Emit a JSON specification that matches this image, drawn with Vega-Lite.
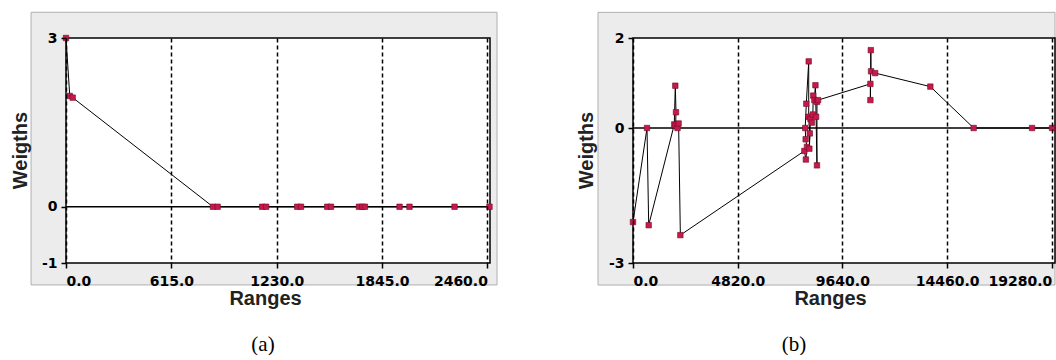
{
  "$schema": "https://vega.github.io/schema/vega-lite/v6.json",
  "padding": {"left": 10, "top": 11, "right": 0, "bottom": 0},
  "background": "white",
  "spacing": 78,
  "config": {"view": {"stroke": null}},
  "datasets": {
    "a": [
      {"i": 0, "x": 0, "y": 3},
      {"i": 1, "x": 22, "y": 1.97},
      {"i": 2, "x": 39, "y": 1.94},
      {"i": 3, "x": 858, "y": 0},
      {"i": 4, "x": 885, "y": 0},
      {"i": 5, "x": 1145, "y": 0},
      {"i": 6, "x": 1168, "y": 0},
      {"i": 7, "x": 1350, "y": 0},
      {"i": 8, "x": 1372, "y": 0},
      {"i": 9, "x": 1525, "y": 0},
      {"i": 10, "x": 1547, "y": 0},
      {"i": 11, "x": 1710, "y": 0},
      {"i": 12, "x": 1730, "y": 0},
      {"i": 13, "x": 1745, "y": 0},
      {"i": 14, "x": 1947, "y": 0},
      {"i": 15, "x": 2005, "y": 0},
      {"i": 16, "x": 2268, "y": 0},
      {"i": 17, "x": 2472, "y": 0}
    ],
    "b": [
      {"i": 0, "x": 0, "y": -2.09},
      {"i": 1, "x": 645, "y": 0},
      {"i": 2, "x": 723, "y": -2.16},
      {"i": 3, "x": 1900, "y": 0.08},
      {"i": 4, "x": 1948, "y": 0.94},
      {"i": 5, "x": 1980, "y": 0.35},
      {"i": 6, "x": 1960, "y": 0.05},
      {"i": 7, "x": 2050, "y": 0},
      {"i": 8, "x": 2100, "y": 0.1},
      {"i": 9, "x": 2180, "y": -2.38},
      {"i": 10, "x": 7890, "y": -0.51},
      {"i": 11, "x": 7960, "y": -0.7},
      {"i": 12, "x": 8010, "y": -0.42},
      {"i": 13, "x": 7950, "y": -0.25},
      {"i": 14, "x": 7930, "y": 0},
      {"i": 15, "x": 7980, "y": 0.54},
      {"i": 16, "x": 8090, "y": 1.48},
      {"i": 17, "x": 8090, "y": 0.25},
      {"i": 18, "x": 8140, "y": -0.12},
      {"i": 19, "x": 8120, "y": -0.46},
      {"i": 20, "x": 8170, "y": 0.2},
      {"i": 21, "x": 8230, "y": 0.12},
      {"i": 22, "x": 8280, "y": 0.3},
      {"i": 23, "x": 8300, "y": 0.72},
      {"i": 24, "x": 8350, "y": 0.62},
      {"i": 25, "x": 8400, "y": 0.95},
      {"i": 26, "x": 8430, "y": 0.25},
      {"i": 27, "x": 8470, "y": -0.83},
      {"i": 28, "x": 8470, "y": 0.58},
      {"i": 29, "x": 8520, "y": 0.62},
      {"i": 30, "x": 10930, "y": 0.98},
      {"i": 31, "x": 10930, "y": 0.62},
      {"i": 32, "x": 10950, "y": 1.73},
      {"i": 33, "x": 10960, "y": 1.26},
      {"i": 34, "x": 11150, "y": 1.22},
      {"i": 35, "x": 13690, "y": 0.92},
      {"i": 36, "x": 15685, "y": 0},
      {"i": 37, "x": 18374, "y": 0},
      {"i": 38, "x": 19295, "y": 0}
    ]
  },
  "hconcat": [
    {
      "width": 424,
      "height": 225,
      "title": {"text": "(a)", "orient": "bottom", "anchor": "middle", "frame": "group", "font": "Liberation Serif", "fontSize": 21, "fontWeight": "normal", "color": "black", "offset": 26, "dx": -15},
      "layer": [
        {
          "data": {"values": [{}]},
          "mark": {"type": "rect", "fill": "#ececec", "stroke": "#b0b0b0", "strokeWidth": 1, "clip": false},
          "encoding": {
            "x": {"datum": -204, "type": "quantitative",
              "scale": {"domain": [0, 2475], "nice": false, "zero": false},
              "axis": {"title": "Ranges", "values": [0, 615, 1230, 1845, 2460], "format": ".1f", "labelFlush": 20, "labelOverlap": false, "labelBound": false,
                "grid": true, "gridDash": [4, 3], "gridColor": "black", "gridWidth": 1.5, "gridOpacity": 1,
                "domain": false, "ticks": true, "tickSize": 5, "tickColor": "black", "tickWidth": 1.5,
                "labelPadding": 6, "labelFont": "DejaVu Sans", "labelFontSize": 14, "labelFontWeight": "bold", "labelColor": "black",
                "titleFont": "Liberation Sans", "titleFontSize": 20, "titleFontWeight": "bold", "titleColor": "#222222",
                "titleX": 199, "titleY": 41, "titleBaseline": "alphabetic", "titleAlign": "center", "zindex": 1}},
            "x2": {"datum": 2516},
            "y": {"datum": 3.457, "type": "quantitative",
              "scale": {"domain": [-1, 3], "nice": false, "zero": false},
              "axis": {"title": "Weigths", "values": [-1, 0, 3], "labelExpr": "'' + datum.value", "grid": false, "domain": false,
                "tickSize": 5, "tickColor": "black", "tickWidth": 1.5, "labelPadding": 4,
                "labelFont": "DejaVu Sans", "labelFontSize": 14, "labelFontWeight": "bold", "labelColor": "black",
                "titleFont": "Liberation Sans", "titleFontSize": 20, "titleFontWeight": "bold", "titleColor": "#222222",
                "titleX": -40, "titleY": 112, "titleAngle": -90, "titleBaseline": "alphabetic", "titleAlign": "center", "zindex": 1}},
            "y2": {"datum": -1.39}
          }
        },
        {
          "data": {"values": [{}]},
          "mark": {"type": "rect", "fill": "white", "stroke": "black", "strokeWidth": 1.5, "clip": false},
          "encoding": {
            "x": {"datum": 0, "type": "quantitative"},
            "x2": {"datum": 2475},
            "y": {"datum": 3, "type": "quantitative"},
            "y2": {"datum": -1}
          }
        },
        {
          "data": {"values": [{}]},
          "mark": {"type": "rule", "color": "black", "strokeWidth": 1.5},
          "encoding": {"y": {"datum": 0, "type": "quantitative"}}
        },
        {
          "data": {"name": "a"},
          "mark": {"type": "line", "color": "black", "strokeWidth": 1},
          "encoding": {
            "x": {"field": "x", "type": "quantitative"},
            "y": {"field": "y", "type": "quantitative"},
            "order": {"field": "i"}
          }
        },
        {
          "data": {"name": "a"},
          "mark": {"type": "point", "shape": "square", "filled": true, "size": 30, "color": "#c8194b", "stroke": "#6e0d2a", "strokeWidth": 0.6, "opacity": 1},
          "encoding": {
            "x": {"field": "x", "type": "quantitative"},
            "y": {"field": "y", "type": "quantitative"}
          }
        }
      ]
    },
    {
      "width": 422,
      "height": 225,
      "title": {"text": "(b)", "orient": "bottom", "anchor": "middle", "frame": "group", "font": "Liberation Serif", "fontSize": 21, "fontWeight": "normal", "color": "black", "offset": 26, "dx": -50},
      "layer": [
        {
          "data": {"values": [{}]},
          "mark": {"type": "rect", "fill": "#ececec", "stroke": "#b0b0b0", "strokeWidth": 1, "clip": false},
          "encoding": {
            "x": {"datum": -1611, "type": "quantitative",
              "scale": {"domain": [0, 19430], "nice": false, "zero": false},
              "axis": {"title": "Ranges", "values": [0, 4820, 9640, 14460, 19280], "format": ".1f", "labelFlush": 20, "labelOverlap": false, "labelBound": false,
                "grid": true, "gridDash": [4, 3], "gridColor": "black", "gridWidth": 1.5, "gridOpacity": 1,
                "domain": false, "ticks": true, "tickSize": 5, "tickColor": "black", "tickWidth": 1.5,
                "labelPadding": 6, "labelFont": "DejaVu Sans", "labelFontSize": 14, "labelFontWeight": "bold", "labelColor": "black",
                "titleFont": "Liberation Sans", "titleFontSize": 20, "titleFontWeight": "bold", "titleColor": "#222222",
                "titleX": 197, "titleY": 41, "titleBaseline": "alphabetic", "titleAlign": "center", "zindex": 1}},
            "x2": {"datum": 19430},
            "y": {"datum": 2.57, "type": "quantitative",
              "scale": {"domain": [-3, 2], "nice": false, "zero": false},
              "axis": {"title": "Weigths", "values": [-3, 0, 2], "labelExpr": "'' + datum.value", "grid": false, "domain": false,
                "tickSize": 5, "tickColor": "black", "tickWidth": 1.5, "labelPadding": 4,
                "labelFont": "DejaVu Sans", "labelFontSize": 14, "labelFontWeight": "bold", "labelColor": "black",
                "titleFont": "Liberation Sans", "titleFontSize": 20, "titleFontWeight": "bold", "titleColor": "#222222",
                "titleX": -41, "titleY": 112, "titleAngle": -90, "titleBaseline": "alphabetic", "titleAlign": "center", "zindex": 1}},
            "y2": {"datum": -3.49}
          }
        },
        {
          "data": {"values": [{}]},
          "mark": {"type": "rect", "fill": "white", "stroke": "black", "strokeWidth": 1.5, "clip": false},
          "encoding": {
            "x": {"datum": 0, "type": "quantitative"},
            "x2": {"datum": 19430},
            "y": {"datum": 2, "type": "quantitative"},
            "y2": {"datum": -3}
          }
        },
        {
          "data": {"values": [{}]},
          "mark": {"type": "rule", "color": "black", "strokeWidth": 1.5},
          "encoding": {"y": {"datum": 0, "type": "quantitative"}}
        },
        {
          "data": {"name": "b"},
          "mark": {"type": "line", "color": "black", "strokeWidth": 1},
          "encoding": {
            "x": {"field": "x", "type": "quantitative"},
            "y": {"field": "y", "type": "quantitative"},
            "order": {"field": "i"}
          }
        },
        {
          "data": {"name": "b"},
          "mark": {"type": "point", "shape": "square", "filled": true, "size": 30, "color": "#c8194b", "stroke": "#6e0d2a", "strokeWidth": 0.6, "opacity": 1},
          "encoding": {
            "x": {"field": "x", "type": "quantitative"},
            "y": {"field": "y", "type": "quantitative"}
          }
        }
      ]
    }
  ]
}
